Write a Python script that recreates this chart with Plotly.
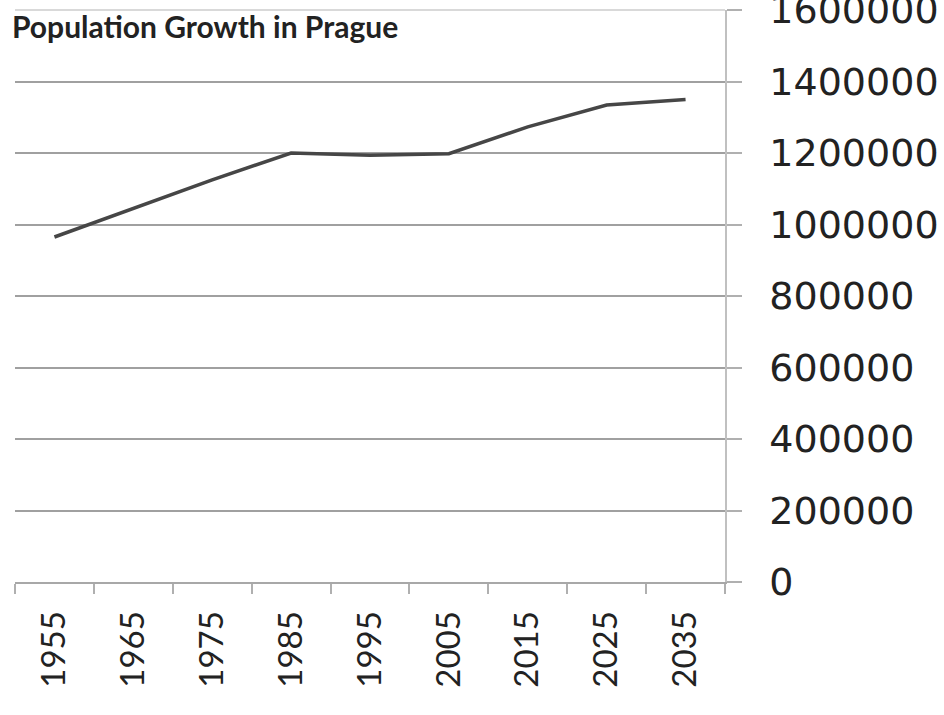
import plotly.graph_objects as go

years = ["1955", "1965", "1975", "1985", "1995", "2005", "2015", "2025", "2035"]
population = [965000, 1045000, 1125000, 1200000, 1194000, 1198000, 1273000, 1334000, 1350000]
y_ticks = [0, 200000, 400000, 600000, 800000, 1000000, 1200000, 1400000, 1600000]
title_text = "Population Growth in Prague"

fig = go.Figure()
fig.add_trace(go.Scatter(
    x=years, y=population, mode="lines",
    line=dict(color="#464646", width=3.5),
    showlegend=False, hoverinfo="x+y",
))

fig.update_layout(
    width=944, height=715,
    margin=dict(l=15, r=219, t=10, b=133),
    paper_bgcolor="white", plot_bgcolor="white",
    title=dict(
        text="<b>" + title_text + "</b>",
        font=dict(family="Lato", size=30, color="#222222"),
        xref="container", yref="container",
        x=12 / 944, xanchor="left",
        y=1 - 27 / 715, yanchor="middle",
    ),
    xaxis=dict(
        type="category", range=[-0.5, 8.5], automargin=False,
        showgrid=False, showline=True, linecolor="#a8a8a8", linewidth=2,
        ticks="outside", tickson="boundaries", ticklen=10, tickcolor="#b0b0b0", tickwidth=1.5,
        tickangle=-90,
        tickfont=dict(family="Lato", size=33, color="#222222"),
        ticklabelstandoff=14,
    ),
    yaxis=dict(
        side="right", range=[0, 1600000], automargin=False,
        tickmode="array", tickvals=y_ticks, ticktext=[str(v) for v in y_ticks],
        showgrid=True, gridcolor="#a0a0a0", gridwidth=1.8,
        showline=True, linecolor="#c0c0c0", linewidth=1.5,
        ticks="outside", ticklen=15, tickcolor="#b0b0b0", tickwidth=1.5,
        tickfont=dict(family="DejaVu Sans", size=38, color="#222222"),
        ticklabelstandoff=20,
        ticklabeloverflow="allow",
        zeroline=False,
    ),
    shapes=[dict(type="line", xref="paper", yref="paper", x0=0, x1=1, y0=1, y1=1,
                 line=dict(color="#cccccc", width=1.5))],
)

fig.write_html("out.html")
